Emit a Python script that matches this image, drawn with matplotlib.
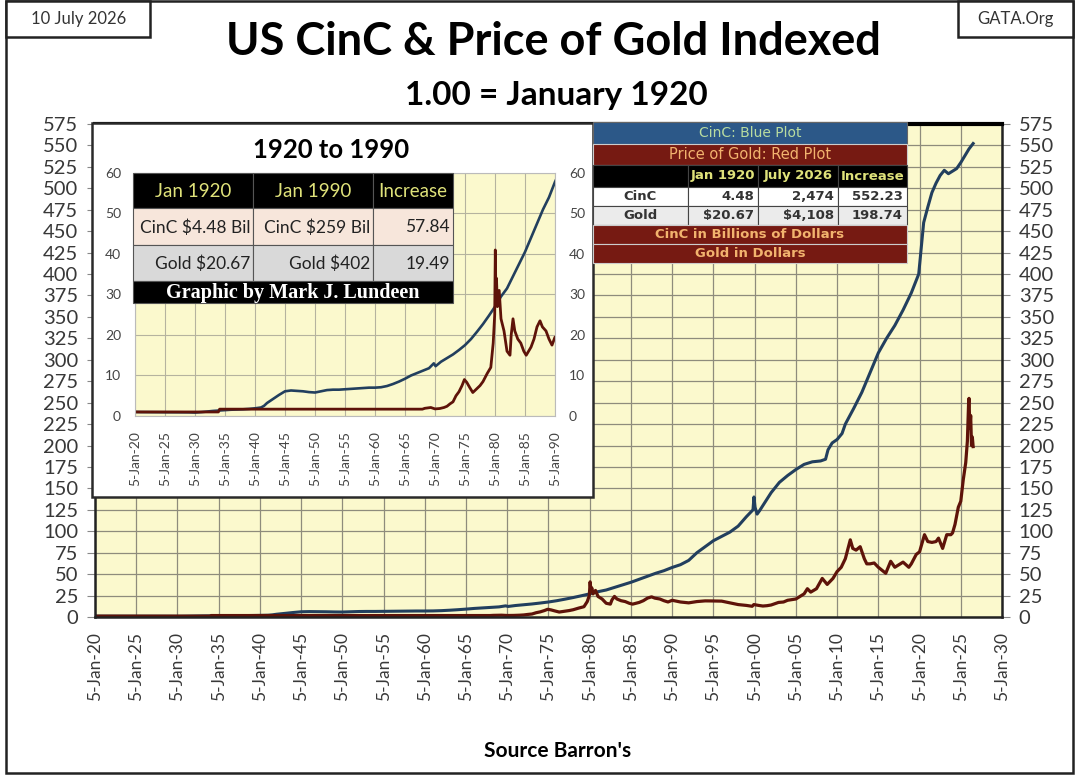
import matplotlib.pyplot as plt
from matplotlib.patches import Rectangle

W, H = 1080, 778

# CinC indexed to Jan 1920 = 1.00
cinc_years = [1920, 1921, 1923, 1925, 1927, 1929, 1930, 1931, 1932, 1933, 1934, 1935,
              1936, 1937, 1938, 1939, 1940, 1941, 1941.5, 1942, 1943, 1944, 1945, 1946,
              1947, 1948, 1949, 1950, 1951, 1952, 1953, 1954, 1955, 1956, 1957, 1958,
              1959, 1960, 1961, 1962, 1963, 1964, 1965, 1966, 1967, 1968, 1969, 1969.8,
              1970.1, 1971, 1972, 1973, 1974, 1975, 1976, 1977, 1978, 1979, 1980, 1981,
              1982, 1983, 1984, 1985, 1986, 1987, 1988, 1989, 1990, 1991, 1992, 1993,
              1994, 1995, 1996, 1997, 1998, 1999, 1999.8, 1999.92, 2000.05, 2000.3, 2000.6,
              2001, 2002, 2003, 2004, 2005, 2006, 2007, 2008, 2008.6, 2008.9, 2009.4,
              2010, 2010.6, 2011, 2012, 2013, 2014, 2015, 2016, 2017, 2018, 2019, 2019.9,
              2020.2, 2020.5, 2021, 2021.5, 2022, 2022.5, 2023, 2023.5, 2024, 2024.5,
              2025, 2025.5, 2026, 2026.5]
cinc_index = [1.00, 0.97, 0.95, 0.93, 0.92, 0.90, 0.85, 0.95, 1.10, 1.25, 1.35, 1.45,
              1.55, 1.60, 1.65, 1.75, 1.90, 2.10, 2.5, 3.2, 4.2, 5.2, 6.1, 6.3,
              6.2, 6.1, 5.9, 5.8, 6.1, 6.4, 6.5, 6.5, 6.6, 6.7, 6.8, 6.9,
              7.0, 7.0, 7.1, 7.4, 7.9, 8.5, 9.2, 10.0, 10.6, 11.2, 11.8, 13.0,
              12.3, 13.4, 14.3, 15.2, 16.3, 17.5, 19.0, 20.8, 22.7, 24.8, 27.0, 29.5,
              31.5, 34.5, 37.5, 40.5, 44.0, 47.5, 51.0, 54.0, 57.8, 61, 66, 75,
              82, 89, 94, 99, 106, 117, 125, 140, 128, 120, 124,
              130, 145, 157, 165, 172, 178, 181, 182, 184, 195, 203,
              207, 214, 225, 243, 262, 285, 308, 325, 340, 358, 378, 400,
              430, 460, 478, 495, 506, 515, 521, 517, 520, 523,
              530, 538, 546, 552.23]

# Gold price indexed to Jan 1920 = 1.00
gold_years = [1920, 1933.9, 1934.1, 1967.9, 1968.3, 1968.8, 1969.3, 1970, 1970.8, 1971.5,
              1972, 1972.5, 1973, 1973.5, 1974, 1974.5, 1974.9, 1975.3, 1975.8, 1976.3,
              1976.8, 1977.5, 1978, 1978.7, 1979.3, 1979.7, 1979.95, 1980.05, 1980.15,
              1980.25, 1980.4, 1980.7, 1981, 1981.5, 1982, 1982.5, 1982.7, 1983, 1983.3,
              1983.8, 1984.3, 1984.8, 1985.2, 1985.6, 1986, 1986.5, 1987, 1987.5, 1987.9,
              1988.5, 1989, 1989.5, 1990, 1990.5, 1991, 1992, 1993, 1994, 1995, 1996,
              1997, 1998, 1999, 1999.7, 1999.9, 2000.5, 2001, 2001.5, 2002, 2002.9,
              2003.5, 2004, 2005, 2006, 2006.4, 2006.8, 2007.5, 2008.2, 2008.8, 2009.5,
              2010, 2010.5, 2011, 2011.6, 2011.9, 2012.3, 2012.8, 2013.3, 2013.6, 2014,
              2014.5, 2015, 2015.9, 2016.5, 2017, 2017.5, 2018, 2018.7, 2019, 2019.6,
              2020, 2020.6, 2021, 2021.5, 2022, 2022.3, 2022.8, 2023.3, 2023.8, 2024,
              2024.3, 2024.7, 2025, 2025.3, 2025.6, 2025.8, 2025.95, 2026.0, 2026.1,
              2026.2, 2026.3, 2026.4, 2026.5]
gold_index = [1.0, 1.0, 1.69, 1.69, 1.9, 2.0, 2.1, 1.75, 1.85, 2.1,
              2.4, 3.0, 3.5, 5.0, 6.0, 7.5, 9.0, 8.3, 7.0, 5.8,
              6.5, 7.5, 8.5, 10.5, 12.0, 18.0, 25.0, 41.0, 30.0,
              34.0, 27.0, 31.0, 24.0, 21.0, 16.0, 15.0, 20.0, 24.0, 21.0,
              19.0, 18.0, 16.0, 15.0, 16.0, 17.0, 19.0, 22.0, 23.5, 22.0,
              21.0, 19.0, 17.5, 19.5, 18.5, 17.5, 16.5, 18.0, 18.8, 18.7, 18.5,
              16.5, 14.5, 13.5, 12.5, 14.5, 13.5, 12.8, 13.2, 14.0, 17.0,
              17.5, 19.5, 21.0, 27.0, 33.0, 29.0, 33.0, 45.0, 38.0, 45.0,
              53.0, 58.0, 68.0, 90.0, 80.0, 78.0, 82.0, 68.0, 62.0, 62.0,
              63.0, 58.0, 51.0, 65.0, 58.0, 61.0, 64.0, 58.0, 62.0, 73.0,
              76.0, 96.0, 88.0, 87.0, 88.0, 92.0, 80.0, 96.0, 96.0, 98.0,
              108.0, 128.0, 135.0, 160.0, 180.0, 205.0, 250.0, 255.0, 220.0,
              235.0, 200.0, 210.0, 198.74]

main_xticks = list(range(1920, 2031, 5))
main_yticks = list(range(0, 576, 25))
inset_xticks = list(range(1920, 1991, 5))
inset_yticks = list(range(0, 61, 10))

inset_header = ['Jan 1920', 'Jan 1990', 'Increase']
inset_cinc_row = [r'CinC \$4.48 Bil', r'CinC \$259 Bil', '57.84']
inset_gold_row = [r'Gold \$20.67', r'Gold \$402', '19.49']

table_header = ['', 'Jan 1920', 'July 2026', 'Increase']
table_cinc = ['CinC', '4.48', '2,474', '552.23']
table_gold = ['Gold', r'\$20.67', r'\$4,108', '198.74']

BLUE = '#223f5e'
RED = '#5e1309'
PLOT_BG = '#fbf9cd'
GRID = '#8e8c7c'
MAROON = '#761a12'
TAN = '#f2b36e'
KHAKI = '#dfe27a'

plt.rcParams['font.family'] = ['Lato', 'DejaVu Sans']
narrow = ['DejaVu Sans Condensed', 'Lato']

fig = plt.figure(figsize=(W / 100, H / 100), dpi=100)
fig.patch.set_facecolor('white')


def fx(x):
    return x / W


def fy(y):
    return 1 - y / H


def box(x0, y0, x1, y1, z, **kw):
    fig.add_artist(Rectangle((fx(x0), fy(y1)), (x1 - x0) / W, (y1 - y0) / H,
                             transform=fig.transFigure, zorder=z, **kw))


def label(x, y, s, z=6, **kw):
    fig.text(fx(x), fy(y), s, zorder=z, **kw)


def ticklabels(years):
    return ['5-Jan-%02d' % (y % 100) for y in years]


# ---- main chart
ax = fig.add_axes([fx(95), fy(617), (1002 - 95) / W, (617 - 124) / H])
ax.set_zorder(0)
ax.set_facecolor(PLOT_BG)
ax.plot(cinc_years, cinc_index, color=BLUE, lw=2.2, solid_joinstyle='round')
ax.plot(gold_years, gold_index, color=RED, lw=2.3, solid_joinstyle='round')
ax.set_xlim(1920, 2030)
ax.set_ylim(0, 575)
ax.set_xticks(main_xticks)
ax.set_xticklabels(ticklabels(main_xticks), rotation=90, fontsize=12.5, color='#383838')
ax.set_yticks(main_yticks)
ax.tick_params(axis='y', labelsize=14.5, labelcolor='#383838', length=6, color='#888888',
               right=True, labelright=True, pad=6)
ax.tick_params(axis='x', length=0, pad=11)
ax.grid(True, color=GRID, lw=0.9)
ax.set_axisbelow(True)
for side in ['left', 'right', 'bottom']:
    ax.spines[side].set_color('#222222')
    ax.spines[side].set_linewidth(1.8)
ax.spines['top'].set_color('black')
ax.spines['top'].set_linewidth(3)

# ---- inset panel
box(92, 123, 593, 497, 1, facecolor='white', edgecolor='#2a2a2a', lw=1.8)
label(331, 150, '1920 to 1990', z=2, ha='center', va='center', fontsize=18.5,
      fontweight='bold')

ax2 = fig.add_axes([fx(135), fy(416), (555 - 135) / W, (416 - 173) / H])
ax2.set_zorder(2)
ax2.set_facecolor(PLOT_BG)
ax2.plot(cinc_years, cinc_index, color=BLUE, lw=1.9)
ax2.plot(gold_years, gold_index, color=RED, lw=2.0)
ax2.set_xlim(1920, 1990)
ax2.set_ylim(0, 60)
ax2.set_xticks(inset_xticks)
ax2.set_xticklabels(ticklabels(inset_xticks), rotation=90, fontsize=10, color='#444444')
ax2.set_yticks(inset_yticks)
ax2.tick_params(axis='y', labelsize=10, labelcolor='#444444', length=0, pad=10,
                right=True, labelright=True)
ax2.tick_params(axis='x', length=0, pad=11)
ax2.grid(True, color='#b5b39f', lw=0.8)
ax2.set_axisbelow(True)
for side in ax2.spines:
    ax2.spines[side].set_color('#bbbbbb')
    ax2.spines[side].set_linewidth(0.8)

# inset table
cols = [133, 253, 373, 453]
rows = [173, 208, 245, 281, 303]
fills = ['black', '#f7e6db', '#d9d9d9']
for r, fill in enumerate(fills):
    for c in range(3):
        box(cols[c], rows[r], cols[c + 1], rows[r + 1], 3, facecolor=fill,
            edgecolor='#555555', lw=0.8)
box(cols[0], rows[3], cols[3], rows[4], 3, facecolor='black', edgecolor='#555555', lw=0.8)
for c, s in enumerate(inset_header):
    label((cols[c] + cols[c + 1]) / 2, (rows[0] + rows[1]) / 2 + 1, s, ha='center',
          va='center', fontsize=13.5, color=KHAKI, family=narrow, fontstretch='condensed')
for r, vals in ((1, inset_cinc_row), (2, inset_gold_row)):
    for c, s in enumerate(vals):
        label(cols[c + 1] - 3, (rows[r] + rows[r + 1]) / 2 + 1, s, ha='right', va='center',
              fontsize=12.5, color='#222222', family=narrow, fontstretch='condensed')
label((cols[0] + cols[3]) / 2, (rows[3] + rows[4]) / 2 + 1, 'Graphic by Mark J. Lundeen',
      ha='center', va='center', fontsize=14.5, fontweight='bold', color='white',
      family=['Liberation Serif', 'DejaVu Serif'])

# ---- right table
tx = [593, 688, 758, 838, 907]
ty = [122, 144, 165, 187, 206, 225, 244, 263]
box(tx[0], ty[0], tx[4], ty[1], 3, facecolor='#2c5888', edgecolor='#666666', lw=0.8)
label((tx[0] + tx[4]) / 2, (ty[0] + ty[1]) / 2, 'CinC: Blue Plot', ha='center', va='center',
      fontsize=10, color='#b9dca0', family=['DejaVu Sans'])
box(tx[0], ty[1], tx[4], ty[2], 3, facecolor=MAROON, edgecolor='#cccccc', lw=0.8)
label((tx[0] + tx[4]) / 2, (ty[1] + ty[2]) / 2, 'Price of Gold: Red Plot', ha='center',
      va='center', fontsize=10.5, color=TAN, family=['DejaVu Sans'])
for r, (vals, fill) in enumerate(((table_header, 'black'), (table_cinc, 'white'),
                                  (table_gold, '#ebebeb'))):
    y0, y1 = ty[r + 2], ty[r + 3]
    for c, s in enumerate(vals):
        box(tx[c], y0, tx[c + 1], y1, 3, facecolor=fill, edgecolor='#444444', lw=0.8)
        if r == 0:
            label((tx[c] + tx[c + 1]) / 2, (y0 + y1) / 2, s, ha='center', va='center',
                  fontsize=9.5, fontweight='bold', color=KHAKI, family=['DejaVu Sans'])
        elif c == 0:
            label((tx[c] + tx[c + 1]) / 2, (y0 + y1) / 2, s, ha='center', va='center',
                  fontsize=9.5, fontweight='bold', color='#333333', family=['DejaVu Sans'])
        else:
            label(tx[c + 1] - 4, (y0 + y1) / 2, s, ha='right', va='center',
                  fontsize=9.5, fontweight='bold', color='#333333', family=['DejaVu Sans'])
for r, s in ((5, 'CinC in Billions of Dollars'), (6, 'Gold in Dollars')):
    box(tx[0], ty[r], tx[4], ty[r + 1], 3, facecolor=MAROON, edgecolor='#cccccc', lw=0.8)
    label((tx[0] + tx[4]) / 2, (ty[r] + ty[r + 1]) / 2, s, ha='center', va='center',
          fontsize=9.5, fontweight='bold', color=TAN, family=['DejaVu Sans'])

# ---- frame, titles, corner boxes
box(6, 1, 1073, 773, 0.5, facecolor='none', edgecolor='#222222', lw=1.8)
box(6, 1, 150, 37, 5, facecolor='white', edgecolor='#222222', lw=1.8)
box(958, 1, 1073, 37, 5, facecolor='white', edgecolor='#222222', lw=1.8)
label(79, 19, '10 July 2026', ha='center', va='center', fontsize=12, color='#333333')
label(1015, 19, 'GATA.Org', ha='center', va='center', fontsize=12, color='#333333')
label(553, 42, 'US CinC & Price of Gold Indexed', ha='center', va='center',
      fontsize=32.5, fontweight='bold')
label(556, 95, '1.00 = January 1920', ha='center', va='center', fontsize=24,
      fontweight='bold')
label(558, 751, "Source Barron's", ha='center', va='center', fontsize=15, fontweight='bold')

fig.savefig('out.png', dpi=100)
